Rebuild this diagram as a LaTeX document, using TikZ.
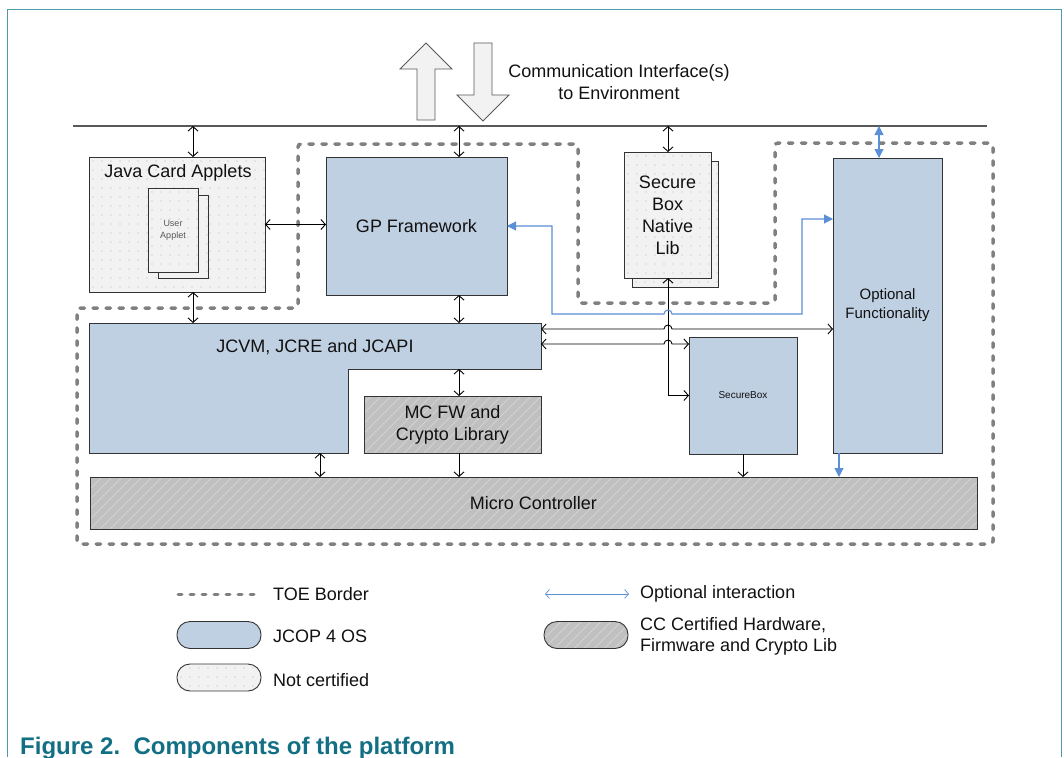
\documentclass[tikz,border=0pt]{standalone}
\usepackage{fontspec}
\setmainfont{Liberation Sans}
\usetikzlibrary{arrows.meta,calc}
\definecolor{boxblue}{HTML}{C0D0E3}
\definecolor{boxline}{HTML}{333333}
\definecolor{dotbg}{HTML}{F2F2F2}
\definecolor{dotc}{HTML}{B4B4B4}
\definecolor{hatchbg}{HTML}{C0C0C0}
\definecolor{hatchln}{HTML}{D6D6D6}
\definecolor{toegrey}{HTML}{808080}
\definecolor{optblue}{HTML}{5B8FD6}
\definecolor{framec}{HTML}{4D9AAE}
\definecolor{capc}{HTML}{136F84}
\definecolor{envc}{HTML}{595959}
\definecolor{txtc}{HTML}{111111}
\newcommand{\fsz}[2]{\fontsize{#1}{#2}\selectfont}
\tikzset{
  box/.style={draw=boxline, line width=0.9pt, inner sep=0pt, outer sep=0pt, align=center, text=txtc},
  bluebox/.style={box, fill=boxblue},
  dotbox/.style={box, fill=dotbg, path picture={
      \foreach \i in {0,...,22}{\foreach \j in {0,...,18}{
        \fill[dotc] ([xshift=\i*9pt+4pt, yshift=-\j*9pt-4pt]path picture bounding box.north west) circle[radius=0.6pt];}}}},
  hatchbox/.style={box, fill=hatchbg, path picture={
      \foreach \k in {-7,...,92}{
        \draw[hatchln, line width=0.7pt] ([xshift=\k*10pt]path picture bounding box.south west) -- ++(80pt,80pt);}}},
  dbl/.style={draw=black, line width=0.9pt, {Straight Barb[length=4.5pt,width=10pt]}-{Straight Barb[length=4.5pt,width=10pt]}},
  sgl/.style={draw=black, line width=0.9pt, -{Straight Barb[length=4.5pt,width=10pt]}},
  bdbl/.style={draw=optblue, line width=1.1pt, {Triangle[length=9pt,width=9pt]}-{Triangle[length=9pt,width=9pt]}},
  bsgl/.style={draw=optblue, line width=1.1pt, -{Triangle[length=9pt,width=9pt]}},
  toe/.style={draw=toegrey, line width=3.5pt, line cap=round, dash pattern=on 4.5pt off 8.5pt},
  blockarrow/.style={draw=envc, line width=0.9pt, fill=dotbg, line join=miter},
  lbl/.style={inner sep=0pt, text=txtc, align=center},
  pill/.style={box, minimum width=84pt, minimum height=27pt, rounded corners=13pt},
  legtxt/.style={lbl, anchor=west, font=\fsz{18}{21}},
}
\begin{document}
\begin{tikzpicture}[x=1pt,y=-1pt, font=\fsz{18}{22}]
\useasboundingbox (0,0) rectangle (1064,757);
% frame
\draw[framec, line width=1pt] (7,757) -- (7,10) -- (1061,10) -- (1061,757);

% communication block arrows
\draw[blockarrow] (417,120) -- (417,69) -- (400,69) -- (426,43) -- (452,69) -- (435,69) -- (435,120) -- cycle;
\draw[blockarrow] (474,43) -- (492,43) -- (492,95) -- (509,95) -- (483,121) -- (457,95) -- (474,95) -- cycle;
\node[lbl, font=\fsz{18}{22}] (comm) at (619,82) {Communication Interface(s)\\to Environment};

% environment line
\draw[envc, line width=1.2pt] (73,126) coordinate (envL) -- (987,126) coordinate (envR);
\coordinate (e1) at (193,126);
\coordinate (e2) at (459,126);
\coordinate (e3) at (668,126);
\coordinate (e4) at (879,126);

% TOE border
\draw[toe, rounded corners=3pt] (77,308) -- (298,308) -- (298,144) -- (578,144) -- (578,303) -- (775,303) -- (775,143) -- (993,143) -- (993,544) -- (77,544) -- cycle;

% boxes
\node[dotbox, minimum width=176pt, minimum height=135pt] (java) at (177,224.5) {};
\node[lbl, font=\fsz{18}{22}] (javat) at (178,173) {Java Card Applets};
\node[dotbox, minimum width=50pt, minimum height=83pt] (userback) at (183,236.5) {};
\node[dotbox, minimum width=50pt, minimum height=84pt, font=\fsz{9}{12}, text=envc] (userfront) at (173,230) {User\\Applet};

\node[bluebox, minimum width=181pt, minimum height=138pt] (gp) at (416.5,226) {GP Framework};

\node[dotbox, minimum width=86pt, minimum height=126pt] (libback) at (675,224) {};
\node[dotbox, minimum width=87pt, minimum height=126pt] (libfront) at (667.5,215) {Secure\\Box\\Native\\Lib};

\node[bluebox, minimum width=109pt, minimum height=295pt, font=\fsz{15}{19}] (opt) at (887.5,305.5) {Optional\\Functionality};

\node[bluebox, minimum width=108pt, minimum height=117pt, font=\fsz{10}{12}] (sbox) at (743,395.5) {SecureBox};

\draw[box, fill=boxblue] (89,323) coordinate (jtl) -- (541,323) coordinate (jtr) -- (541,369) -- (348,369) coordinate (jstep) -- (348,453) -- (89,453) coordinate (jbl) -- cycle;
\node[lbl] (jcvm) at (315,347) {JCVM, JCRE and JCAPI};

\node[hatchbox, minimum width=177pt, minimum height=57pt] (mcfw) at (452.5,424.5) {MC FW and\\Crypto Library};
\node[hatchbox, minimum width=887pt, minimum height=52pt] (mc) at (533.5,503) {Micro Controller};

% helper coordinates
\coordinate (jb) at (320,453);
\coordinate (jr1) at (541,329);
\coordinate (jr2) at (541,344);
\coordinate (b1) at (552,314);
\coordinate (b2) at (802,314);
\coordinate (oin) at ([yshift=86.5pt]opt.west);
\coordinate (ob) at ([xshift=-48.5pt]opt.south);

% connectors
\draw[dbl] (e1) -- (e1 |- java.north);
\draw[dbl] (e2) -- (e2 |- gp.north);
\draw[dbl] (e3) -- (e3 |- libfront.north);
\draw[bdbl] (e4) -- (e4 |- opt.north);
\draw[dbl] (java.east) -- (java.east -| gp.west);
\draw[dbl] (e1 |- java.south) -- (e1 |- jtl);
\draw[dbl] (e2 |- gp.south) -- (e2 |- jtl);
\draw[dbl] (e2 |- jstep) -- (e2 |- mcfw.north);
\draw[sgl] (e2 |- mcfw.south) -- (e2 |- mc.north);
\draw[dbl] (jb) -- (jb |- mc.north);
\draw[sgl] (sbox.south) -- (sbox.south |- mc.north);
\draw[bsgl] (ob) -- (ob |- mc.north);
\draw[dbl] (e3 |- libfront.south) -- (e3 |- sbox.west) -- (sbox.west);
\draw[dbl] (jr1) -- ($(e3 |- jr1)+(-4,0)$) arc[start angle=180, end angle=0, radius=4pt] -- (jr1 -| opt.west);
\draw[dbl] (jr2) -- ($(e3 |- jr2)+(-4,0)$) arc[start angle=180, end angle=0, radius=4pt] -- (jr2 -| sbox.west);
\draw[bdbl] (gp.east) -| (b1) -- ($(e3 |- b1)+(-4,0)$) arc[start angle=180, end angle=0, radius=4pt] -- (b2) |- (oin);

% legend
\draw[toe, line width=3pt, dash pattern=on 4pt off 8pt] (178,594) coordinate (ltoeA) -- (259,594) coordinate (ltoeB);
\node[legtxt] (ltoe) at (273,594) {TOE Border};
\node[pill, fill=boxblue] (lblue) at (219,635) {};
\node[legtxt] (lbluet) at (273,636) {JCOP 4 OS};
\node[pill, dotbox] (ldot) at (219,677.5) {};
\node[legtxt] (ldott) at (273,680) {Not certified};
\draw[draw=optblue, line width=0.7pt, {Straight Barb[length=4pt,width=9pt]}-{Straight Barb[length=4pt,width=9pt]}] (545,594) coordinate (loA) -- (629,594) coordinate (loB);
\node[legtxt] (lopt) at (640,594) {Optional interaction};
\node[pill, hatchbox] (lhatch) at (586,635) {};
\node[legtxt, align=left] (lhatcht) at (640,636) {CC Certified Hardware,\\Firmware and Crypto Lib};

% caption
\node[lbl, anchor=base west, text=capc, font=\fsz{24}{28}\bfseries] (cap) at (20,754) {Figure 2.\ \ Components of the platform};
\end{tikzpicture}
\end{document}
